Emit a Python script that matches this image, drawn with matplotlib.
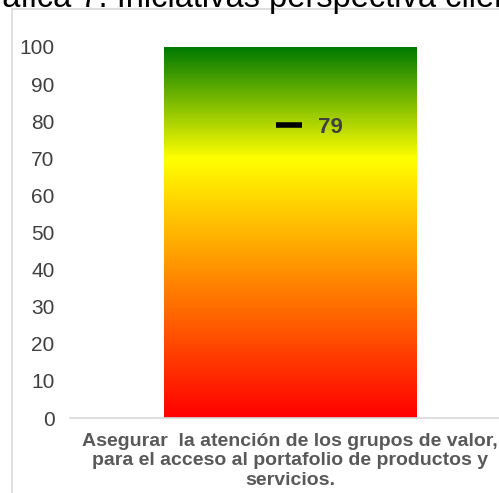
#!/usr/bin/env python3
"""Gauge-style bar: initiative progress against a red-yellow-green scale."""

import matplotlib

matplotlib.use("Agg")
import matplotlib.pyplot as plt
import numpy as np
from matplotlib.colors import LinearSegmentedColormap
from matplotlib.patches import Rectangle

TITLE = "Gráfica 7. Iniciativas perspectiva cliente"
CATEGORIES = ["Asegurar  la atención de los grupos de valor,\npara el acceso al portafolio de productos y\nservicios."]
SCALE_MAX = [100]
RESULT = [79]
Y_TICKS = [0, 10, 20, 30, 40, 50, 60, 70, 80, 90, 100]

plt.rcParams["font.family"] = ["Liberation Sans", "DejaVu Sans"]

W, H = 499, 493
fig = plt.figure(figsize=(W / 100, H / 100), dpi=100)

# outer chart frame (only top/left edges visible in the crop)
fig.patches.append(Rectangle((12 / W, -0.1), 1.1, (H - 9) / H + 0.1,
                             transform=fig.transFigure, fill=False,
                             edgecolor="#d9d9d9", linewidth=1.2))

fig.text(-34 / W, 1 - 7 / H, TITLE, fontsize=23.5, color="black",
         ha="left", va="baseline")

ax = fig.add_axes([70 / W, 1 - 418 / H, 440 / W, (418 - 47) / H])

cmap = LinearSegmentedColormap.from_list(
    "semaforo",
    [(0.0, "#ff0000"), (0.7, "#ffff00"), (1.0, "#007a00")],
)

x = np.arange(len(CATEGORIES))
bars = ax.bar(x, SCALE_MAX, width=0.575, color="none", edgecolor="none", zorder=2)
for bar in bars:
    x0, w, h = bar.get_x(), bar.get_width(), bar.get_height()
    grad = np.linspace(0, 1, 256).reshape(-1, 1)
    im = ax.imshow(grad, cmap=cmap, origin="lower", aspect="auto",
                   extent=(x0, x0 + w, 0, h), zorder=1)
    im.set_clip_path(bar)

ax.plot(x - 0.003, RESULT, marker="_", markersize=19, markeredgewidth=4,
        color="black", linestyle="none", zorder=3)
for xi, v in zip(x, RESULT):
    ax.text(xi + 0.063, v - 0.6, f"{v}", fontsize=16, fontweight="bold",
            color="#404040", ha="left", va="center", zorder=4)

ax.set_xlim(-0.5, 0.5)
ax.set_ylim(0, 100)
ax.set_yticks(Y_TICKS)
ax.set_xticks(x)
ax.set_xticklabels(CATEGORIES, fontsize=14, fontweight="bold", color="#595959",
                   linespacing=1.17)
ax.tick_params(axis="y", length=0, pad=11, labelsize=15, labelcolor="#404040")
ax.tick_params(axis="x", length=0, pad=11)
for side in ("top", "right", "left"):
    ax.spines[side].set_visible(False)
ax.spines["bottom"].set_color("#d9d9d9")
ax.spines["bottom"].set_linewidth(1.2)

fig.savefig("out.png", dpi=100)
